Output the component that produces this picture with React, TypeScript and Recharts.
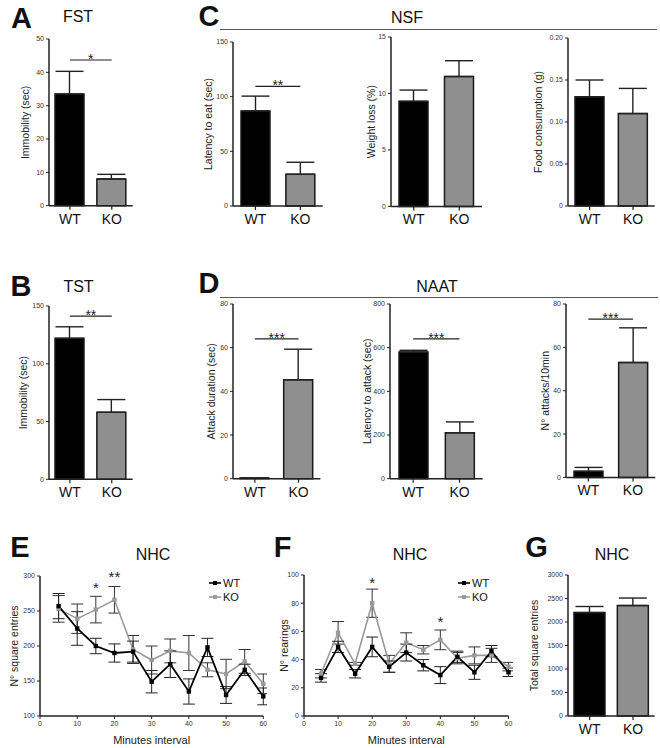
import React from 'react';
import {
  BarChart, Bar, XAxis, YAxis, ErrorBar, ReferenceLine, Cell,
  LineChart, Line, ReferenceDot,
} from 'recharts';

const FONT = '"Liberation Sans", Arial, Helvetica, sans-serif';

// ---------- data ----------
const groups = ['WT', 'KO'];

const fstMean = [33.5, 8.0];
const fstSem = [6.8, 1.4];
const tstMean = [122, 58];
const tstSem = [10, 11];
const nsfLatencyMean = [87, 29];
const nsfLatencySem = [13.5, 11];
const nsfWeightMean = [9.3, 11.5];
const nsfWeightSem = [1.0, 1.4];
const nsfFoodMean = [0.13, 0.11];
const nsfFoodSem = [0.02, 0.03];
const naatDurationMean = [0.3, 45.3];
const naatDurationSem = [0, 14];
const naatLatencyMean = [580, 210];
const naatLatencySem = [8, 50];
const naatAttacksMean = [2.8, 53];
const naatAttacksSem = [1.8, 16];
const nhcTotalMean = [2200, 2350];
const nhcTotalSem = [130, 160];

const minutes = [5, 10, 15, 20, 25, 30, 35, 40, 45, 50, 55, 60];
const entriesWT = [257, 225, 200, 190, 192, 149, 174, 135, 198, 130, 166, 128];
const entriesWTSem = [18, 24, 11, 13, 15, 16, 19, 18, 13, 12, 8, 12];
const entriesKO = [253, 239, 252, 266, 195, 180, 193, 190, 166, 160, 178, 146];
const entriesKOSem = [19, 21, 19, 19, 20, 20, 17, 25, 10, 21, 17, 14];

const rearingsWT = [27, 49, 30, 49, 35, 45, 36, 29, 42, 31, 46, 31];
const rearingsWTSem = [3, 4, 3, 7, 4, 6, 4, 6, 4, 5, 4, 3];
const rearingsKO = [30, 59, 37, 80, 37, 52, 47, 54, 41, 43, 43, 35];
const rearingsKOSem = [3, 8, 1, 10, 6, 7, 3, 7, 4, 6, 5, 3];

const entriesStarMin = [15, 20];
const entriesStarY = [283, 298.6];
const entriesStarText = ['*', '**'];
const rearingsStarMin = [20, 40];
const rearingsStarY = [94.3, 66.7];
const rearingsStarText = ['*', '*'];

const minuteTicks = [0, 10, 20, 30, 40, 50, 60];

// ---------- helpers ----------
const T = 10;
const R = 4;
const AXIS = '#222';

function Txt({ x, y, size, bold, children }: any) {
  return (
    <div
      style={{
        position: 'absolute', left: x, top: y, transform: 'translate(-50%, -50%)',
        fontSize: size, fontWeight: bold ? 700 : 400, lineHeight: 1, whiteSpace: 'nowrap',
        color: '#111', fontFamily: FONT,
      }}
    >
      {children}
    </div>
  );
}

function BarPanel({ means, sems, ymax, ticks, fmt, ylabel, ax, ty, by, ex, w, sig, stars, barSize }: any) {
  const XH = 30;
  const data = groups.map((g, i) => ({ name: g, value: means[i], err: [0, sems[i]] }));
  const width = ex - ax + w + R;
  const height = by - ty + T + XH;
  return (
    <div style={{ position: 'absolute', left: ax - w, top: ty - T }}>
      <BarChart width={width} height={height} data={data} margin={{ top: T, right: R, bottom: 0, left: 0 }}>
        <XAxis
          dataKey="name" height={XH} interval={0}
          axisLine={{ stroke: AXIS, strokeWidth: 1.5 }} tickLine={{ stroke: AXIS, strokeWidth: 1.2 }}
          tickSize={4} tickMargin={4}
          tick={{ fontSize: 14, fill: '#111', fontFamily: FONT }}
        />
        <YAxis
          width={w} domain={[0, ymax]} ticks={ticks} tickFormatter={fmt}
          axisLine={{ stroke: AXIS, strokeWidth: 1.5 }} tickLine={{ stroke: AXIS, strokeWidth: 1 }}
          tickSize={3} tickMargin={2}
          tick={{ fontSize: 7, fill: '#333', fontFamily: FONT }}
          label={{ value: ylabel, angle: -90, position: 'center', fontSize: 10.5, fill: '#222', fontFamily: FONT }}
        />
        <Bar dataKey="value" barSize={barSize || 29} isAnimationActive={false} stroke="#1a1a1a" strokeWidth={1.5}>
          {data.map((d, i) => (
            <Cell key={d.name} fill={i === 0 ? '#000' : '#8f8f8f'} />
          ))}
          <ErrorBar dataKey="err" width={14} stroke="#222" strokeWidth={1.4} direction="y" />
        </Bar>
        {sig !== undefined && (
          <ReferenceLine
            segment={[{ x: 'WT', y: sig }, { x: 'KO', y: sig }]}
            stroke="#222" strokeWidth={1.2} ifOverflow="visible"
            label={{ value: stars, position: 'top', offset: -4, fontSize: 14, fill: '#222', fontFamily: FONT }}
          />
        )}
      </BarChart>
    </div>
  );
}

const SquareDot = (color: string) => (props: any) => {
  const { cx, cy, index } = props;
  if (cx == null || cy == null) return <g key={index} />;
  return <rect key={index} x={cx - 2.2} y={cy - 2.2} width={4.4} height={4.4} fill={color} />;
};

function LinePanel({ wt, wtSem, ko, koSem, ymin, ymax, yticks, ylabel, ax, ty, by, ex, w, starMin, starY, starText }: any) {
  const XH = 29;
  const B = 3;
  const data = minutes.map((m, i) => ({ min: m, wt: wt[i], wtErr: wtSem[i], ko: ko[i], koErr: koSem[i] }));
  const width = ex - ax + w + R;
  const height = by - ty + T + XH + B;
  return (
    <div style={{ position: 'absolute', left: ax - w, top: ty - T }}>
      <LineChart width={width} height={height} data={data} margin={{ top: T, right: R, bottom: B, left: 0 }}>
        <XAxis
          type="number" dataKey="min" domain={[0, 60]} ticks={minuteTicks} height={XH} interval={0}
          axisLine={{ stroke: AXIS, strokeWidth: 1.5 }} tickLine={{ stroke: AXIS, strokeWidth: 1 }}
          tickSize={3} tickMargin={2}
          tick={{ fontSize: 7, fill: '#333', fontFamily: FONT }}
          label={{ value: 'Minutes interval', position: 'insideBottom', offset: 1, fontSize: 11, fill: '#222', fontFamily: FONT }}
        />
        <YAxis
          width={w} domain={[ymin, ymax]} ticks={yticks} allowDataOverflow
          axisLine={{ stroke: AXIS, strokeWidth: 1.5 }} tickLine={{ stroke: AXIS, strokeWidth: 1 }}
          tickSize={3} tickMargin={2}
          tick={{ fontSize: 7, fill: '#333', fontFamily: FONT }}
          label={{ value: ylabel, angle: -90, position: 'center', fontSize: 10.5, fill: '#222', fontFamily: FONT }}
        />
        <Line dataKey="ko" stroke="#9a9a9a" strokeWidth={1.6} dot={SquareDot('#9a9a9a')} isAnimationActive={false}>
          <ErrorBar dataKey="koErr" width={6} stroke="#333" strokeWidth={1} direction="y" />
        </Line>
        <Line dataKey="wt" stroke="#000" strokeWidth={1.8} dot={SquareDot('#000')} isAnimationActive={false}>
          <ErrorBar dataKey="wtErr" width={6} stroke="#222" strokeWidth={1} direction="y" />
        </Line>
        {starMin.map((m: number, i: number) => (
          <ReferenceDot
            key={i} x={m} y={starY[i]} r={0} fill="none" stroke="none" ifOverflow="visible"
            label={{ value: starText[i], position: 'center', fontSize: 15, fill: '#222', fontFamily: FONT }}
          />
        ))}
      </LineChart>
    </div>
  );
}

function LegendBox({ x, y }: any) {
  const row = (label: string, color: string, top: number) => (
    <div style={{ position: 'absolute', left: x, top: top - 7, height: 14, display: 'flex', alignItems: 'center', fontFamily: FONT, fontSize: 11, color: '#111', whiteSpace: 'nowrap' }}>
      <svg width={12} height={6} style={{ marginRight: 2 }}>
        <line x1={0} y1={3} x2={12} y2={3} stroke={color} strokeWidth={1.6} />
        <rect x={4} y={1} width={4} height={4} fill={color} />
      </svg>
      {label}
    </div>
  );
  return (
    <>
      {row('WT', '#000', y)}
      {row('KO', '#9a9a9a', y + 14)}
    </>
  );
}

const fmt2 = (v: number) => (v === 0 ? '0' : v.toFixed(2));

export default function App() {
  return (
    <div style={{ position: 'absolute', left: 0, top: 0, width: 660, height: 748, background: '#fff', overflow: 'hidden', fontFamily: FONT }}>
      {/* panel letters */}
      <Txt x={21.5} y={17.5} size={29} bold>A</Txt>
      <Txt x={21} y={286} size={29} bold>B</Txt>
      <Txt x={209} y={15.5} size={29} bold>C</Txt>
      <Txt x={209} y={282.5} size={29} bold>D</Txt>
      <Txt x={20} y={546.5} size={29} bold>E</Txt>
      <Txt x={282.5} y={546.5} size={29} bold>F</Txt>
      <Txt x={536.5} y={546.5} size={29} bold>G</Txt>

      {/* titles */}
      <Txt x={78} y={17} size={16}>FST</Txt>
      <Txt x={78.5} y={287} size={16}>TST</Txt>
      <Txt x={407} y={18} size={16}>NSF</Txt>
      <Txt x={437} y={287} size={16}>NAAT</Txt>
      <Txt x={153} y={555} size={16}>NHC</Txt>
      <Txt x={410} y={555} size={16}>NHC</Txt>
      <Txt x={612} y={555} size={16}>NHC</Txt>
      <div style={{ position: 'absolute', left: 220, top: 29, width: 437, height: 1, background: '#555' }} />
      <div style={{ position: 'absolute', left: 220, top: 297, width: 438, height: 1, background: '#555' }} />

      <BarPanel means={fstMean} sems={fstSem} ymax={50} ticks={[0, 10, 20, 30, 40, 50]}
        ylabel="Immobility (sec)" ax={49.3} ty={39} by={205.7} ex={133} w={48} sig={43.7} stars="*" />
      <BarPanel means={tstMean} sems={tstSem} ymax={150} ticks={[0, 50, 100, 150]}
        ylabel="Immobility (sec)" ax={49.3} ty={305.7} by={479} ex={133} w={52} sig={141.3} stars="**" />

      <BarPanel means={nsfLatencyMean} sems={nsfLatencySem} ymax={150} ticks={[0, 50, 100, 150]}
        ylabel="Latency to eat (sec)" ax={233.3} ty={41.7} by={205.7} ex={323} w={50} sig={109.5} stars="**" />
      <BarPanel means={nsfWeightMean} sems={nsfWeightSem} ymax={15} ticks={[0, 5, 10, 15]}
        ylabel="Weight loss (%)" ax={390.7} ty={37.3} by={206.7} ex={481.7} w={40} />
      <BarPanel means={nsfFoodMean} sems={nsfFoodSem} ymax={0.2} ticks={[0, 0.05, 0.1, 0.15, 0.2]} fmt={fmt2}
        ylabel="Food consumption (g)" ax={568.3} ty={37.7} by={205.7} ex={655} w={60} />

      <BarPanel means={naatDurationMean} sems={naatDurationSem} ymax={80} ticks={[0, 20, 40, 60, 80]}
        ylabel="Attack duration (sec)" ax={233.3} ty={304.3} by={479} ex={320.7} w={44} sig={64} stars="***" />
      <BarPanel means={naatLatencyMean} sems={naatLatencySem} ymax={800} ticks={[0, 200, 400, 600, 800]}
        ylabel="Latency to attack (sec)" ax={390} ty={304.3} by={479} ex={482.7} w={46} sig={640} stars="***" />
      <BarPanel means={naatAttacksMean} sems={naatAttacksSem} ymax={80} ticks={[0, 20, 40, 60, 80]}
        ylabel="N° attacks/10min" ax={565.7} ty={304.3} by={477.7} ex={655} w={42} sig={73} stars="***" />

      <LinePanel wt={entriesWT} wtSem={entriesWTSem} ko={entriesKO} koSem={entriesKOSem}
        ymin={100} ymax={300} yticks={[100, 150, 200, 250, 300]} ylabel="N° square entries"
        ax={40} ty={576} by={716} ex={263.3} w={52}
        starMin={entriesStarMin} starY={entriesStarY} starText={entriesStarText} />
      <LinePanel wt={rearingsWT} wtSem={rearingsWTSem} ko={rearingsKO} koSem={rearingsKOSem}
        ymin={0} ymax={100} yticks={[0, 20, 40, 60, 80, 100]} ylabel="N° rearings"
        ax={304} ty={575} by={716} ex={508.5} w={40}
        starMin={rearingsStarMin} starY={rearingsStarY} starText={rearingsStarText} />
      <LegendBox x={209} y={583} />
      <LegendBox x={458} y={583} />

      <BarPanel means={nhcTotalMean} sems={nhcTotalSem} ymax={3000} ticks={[0, 500, 1000, 1500, 2000, 2500, 3000]}
        ylabel="Total square entries" ax={568.3} ty={575} by={716} ex={655} w={68} barSize={31} />
    </div>
  );
}
